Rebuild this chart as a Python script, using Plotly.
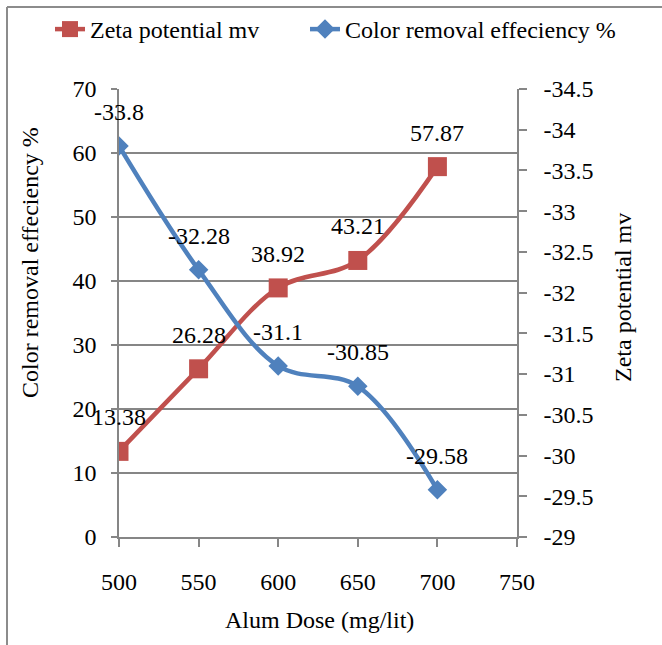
import plotly.graph_objects as go

dose = [500, 550, 600, 650, 700]
color_removal = [13.38, 26.28, 38.92, 43.21, 57.87]
zeta = [-33.8, -32.28, -31.1, -30.85, -29.58]
x_ticks = [500, 550, 600, 650, 700, 750]
left_ticks = [0, 10, 20, 30, 40, 50, 60, 70]
right_vals = [-34.5, -34, -33.5, -33, -32.5, -32, -31.5, -31, -30.5, -30, -29.5, -29]
right_text = ["-34.5", "-34", "-33.5", "-33", "-32.5", "-32", "-31.5", "-31", "-30.5", "-30", "-29.5", "-29"]

RED = "#C0504D"
BLUE = "#4F81BD"
GRID = "#868686"
FONT = "Liberation Serif"
FS = 24

fig = go.Figure()
fig.add_trace(go.Scatter(
    x=dose, y=color_removal, name="Zeta potential mv", mode="lines+markers",
    line=dict(color=RED, width=4.5, shape="spline", smoothing=1),
    marker=dict(symbol="square", size=19, color=RED),
    yaxis="y", legend="legend"))
fig.add_trace(go.Scatter(
    x=dose, y=zeta, name="Color removal effeciency %", mode="lines+markers",
    line=dict(color=BLUE, width=4.5, shape="spline", smoothing=1),
    marker=dict(symbol="diamond", size=15, color=BLUE),
    yaxis="y2", legend="legend2"))

annotations = []
for xv, yv in zip(dose, color_removal):
    annotations.append(dict(x=xv, y=yv, xref="x", yref="y", text=f"{yv:g}",
                            showarrow=False, yshift=34,
                            font=dict(family=FONT, size=FS, color="black")))
for xv, yv in zip(dose, zeta):
    annotations.append(dict(x=xv, y=yv, xref="x", yref="y2", text=f"{yv:g}",
                            showarrow=False, yshift=34,
                            font=dict(family=FONT, size=FS, color="black")))

annotations.append(dict(text="Color removal effeciency %", xref="paper", yref="paper",
                        x=(30 - 119) / 398, y=(537 - 263) / 448, textangle=-90,
                        showarrow=False, xanchor="center", yanchor="middle",
                        font=dict(family=FONT, size=FS, color="black")))
annotations.append(dict(text="Zeta potential mv", xref="paper", yref="paper",
                        x=(623 - 119) / 398, y=(537 - 298) / 448, textangle=-90,
                        showarrow=False, xanchor="center", yanchor="middle",
                        font=dict(family=FONT, size=FS, color="black")))
annotations.append(dict(text="Alum Dose (mg/lit)", xref="paper", yref="paper",
                        x=(319 - 119) / 398, y=(537 - 620) / 448,
                        showarrow=False, xanchor="center", yanchor="middle",
                        font=dict(family=FONT, size=FS, color="black")))

shapes = [
    dict(type="line", xref="paper", yref="paper",
         x0=(7 - 119) / 398, x1=(7 - 119) / 398, y0=(537 - 7) / 448, y1=(537 - 700) / 448,
         line=dict(color="#8C8C8C", width=2)),
    dict(type="line", xref="paper", yref="paper",
         x0=(7 - 119) / 398, x1=(700 - 119) / 398, y0=(537 - 7) / 448, y1=(537 - 7) / 448,
         line=dict(color="#8C8C8C", width=2)),
]

legend_common = dict(orientation="h", xref="paper", yref="paper",
                     xanchor="left", yanchor="top",
                     font=dict(family=FONT, size=FS, color="black"),
                     bgcolor="rgba(0,0,0,0)", itemwidth=30)

fig.update_layout(
    width=662, height=645,
    margin=dict(l=119, r=145, t=89, b=108, autoexpand=False),
    paper_bgcolor="white", plot_bgcolor="white",
    font=dict(family=FONT, size=FS, color="black"),
    showlegend=True,
    legend=dict(x=(50 - 119) / 398, y=(537 - 7) / 448, **legend_common),
    legend2=dict(x=(305 - 119) / 398, y=(537 - 7) / 448, **legend_common),
    xaxis=dict(range=[500, 750], tickvals=x_ticks, ticks="outside", ticklen=8,
               tickcolor=GRID, tickwidth=1.5, showline=True, linecolor=GRID, linewidth=1.5,
               showgrid=False, zeroline=False, ticklabelstandoff=14,
               tickfont=dict(family=FONT, size=FS, color="black")),
    yaxis=dict(range=[0, 70], tickvals=left_ticks, ticks="outside", ticklen=6,
               tickcolor=GRID, tickwidth=1.5, showline=True, linecolor=GRID, linewidth=1.5,
               showgrid=True, gridcolor=GRID, gridwidth=1.5, zeroline=False,
               ticklabelstandoff=10,
               tickfont=dict(family=FONT, size=FS, color="black")),
    yaxis2=dict(range=[-29, -34.5], tickvals=right_vals, ticktext=right_text,
                overlaying="y", side="right", ticks="outside", ticklen=8,
                tickcolor=GRID, tickwidth=1.5, showline=True, linecolor=GRID, linewidth=1.5,
                showgrid=False, zeroline=False, ticklabelstandoff=12,
                tickfont=dict(family=FONT, size=FS, color="black")),
    annotations=annotations,
    shapes=shapes,
)

fig.write_html("out.html")
